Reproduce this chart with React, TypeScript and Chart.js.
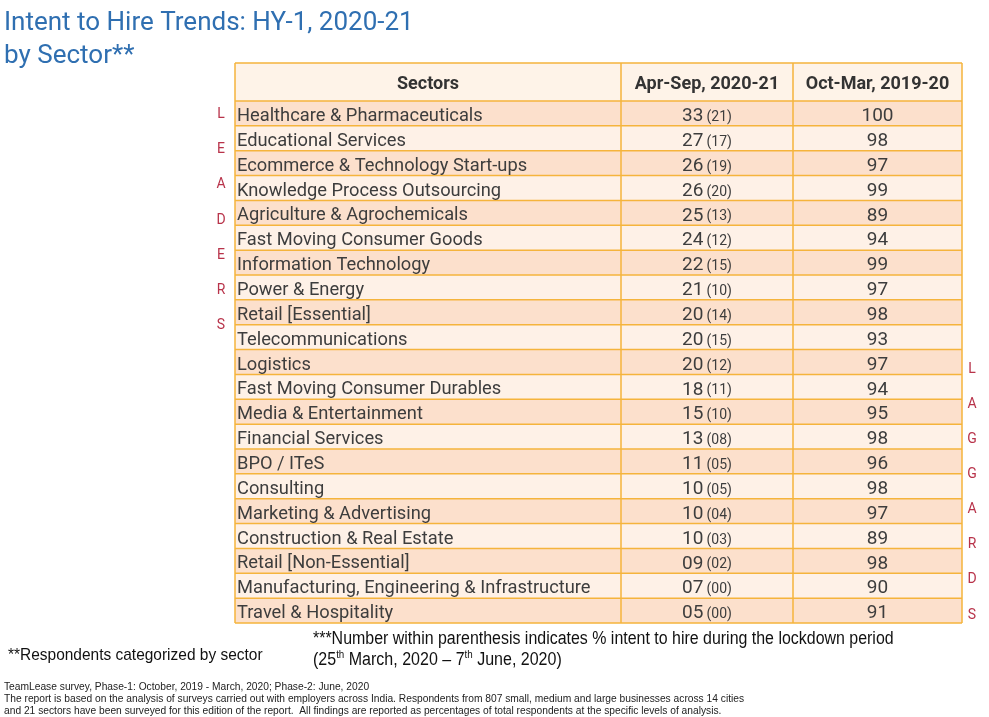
import React, { useEffect, useRef } from 'react';
import { Chart, registerables } from 'chart.js';

Chart.register(...registerables);

// table content
const headers = ['Sectors', 'Apr-Sep, 2020-21', 'Oct-Mar, 2019-20'];
const sectors = [
  'Healthcare & Pharmaceuticals',
  'Educational Services',
  'Ecommerce & Technology Start-ups',
  'Knowledge Process Outsourcing',
  'Agriculture & Agrochemicals',
  'Fast Moving Consumer Goods',
  'Information Technology',
  'Power & Energy',
  'Retail [Essential]',
  'Telecommunications',
  'Logistics',
  'Fast Moving Consumer Durables',
  'Media & Entertainment',
  'Financial Services',
  'BPO / ITeS',
  'Consulting',
  'Marketing & Advertising',
  'Construction & Real Estate',
  'Retail [Non-Essential]',
  'Manufacturing, Engineering & Infrastructure',
  'Travel & Hospitality',
];
const aprSep2021 = [33, 27, 26, 26, 25, 24, 22, 21, 20, 20, 20, 18, 15, 13, 11, 10, 10, 10, 9, 7, 5];
const lockdown = [21, 17, 19, 20, 13, 12, 15, 10, 14, 15, 12, 11, 10, 8, 5, 5, 4, 3, 2, 0, 0];
const octMar1920 = [100, 98, 97, 99, 89, 94, 99, 97, 98, 93, 97, 94, 95, 98, 96, 98, 97, 89, 98, 90, 91];
const leadersLetters = ['L', 'E', 'A', 'D', 'E', 'R', 'S'];
const laggardsLetters = ['L', 'A', 'G', 'G', 'A', 'R', 'D', 'S'];

// layout of the columns in x-axis units
const colEdges = [0, 386, 558, 727];

const TABLE_FONT = 'Roboto, "Noto Sans", sans-serif';
const NARROW_FONT = '"Liberation Sans Narrow", "Liberation Sans", Arial, sans-serif';
const TEXT_COLOR = '#3d3d3d';
const BORDER = '#f5b43c';
const ROW_DARK = '#fce0cc';
const ROW_LIGHT = '#fef1e7';
const HEADER_BG = '#fef3e8';
const LETTER_RED = '#b8334a';
const TITLE_BLUE = '#2f6fb1';

const pad2 = (v: number) => String(v).padStart(2, '0');

// draws text horizontally squeezed, to imitate the condensed face of the notes
const narrowText = (ctx: CanvasRenderingContext2D, text: string, x: number, y: number, size: number, squeeze: number) => {
  ctx.save();
  ctx.font = `${size}px ${NARROW_FONT}`;
  ctx.translate(x, y);
  ctx.scale(squeeze, 1);
  ctx.fillText(text, 0, 0);
  const w = ctx.measureText(text).width * squeeze;
  ctx.restore();
  return w;
};

const tablePlugin = {
  id: 'tableCells',
  beforeDraw(chart: any) {
    const { ctx, chartArea, scales } = chart;
    const x = scales.x;
    const y = scales.y;
    const half = (y.getPixelForValue(1) - y.getPixelForValue(0)) / 2;
    const left = x.getPixelForValue(colEdges[0]);
    const right = x.getPixelForValue(colEdges[colEdges.length - 1]);
    const top = x.top;
    const bottom = y.getPixelForValue(sectors.length - 1) + half;

    ctx.save();
    ctx.fillStyle = HEADER_BG;
    ctx.fillRect(left, top, right - left, chartArea.top - top);
    sectors.forEach((_, i) => {
      const c = y.getPixelForValue(i);
      ctx.fillStyle = i % 2 === 0 ? ROW_DARK : ROW_LIGHT;
      ctx.fillRect(left, c - half, right - left, half * 2);
    });

    ctx.strokeStyle = BORDER;
    ctx.lineWidth = 1.5;
    ctx.beginPath();
    ctx.moveTo(left, top);
    ctx.lineTo(right, top);
    sectors.forEach((_, i) => {
      const yy = y.getPixelForValue(i) - half;
      ctx.moveTo(left, yy);
      ctx.lineTo(right, yy);
    });
    ctx.moveTo(left, bottom);
    ctx.lineTo(right, bottom);
    colEdges.forEach((e) => {
      const xx = x.getPixelForValue(e);
      ctx.moveTo(xx, top);
      ctx.lineTo(xx, bottom);
    });
    ctx.stroke();
    ctx.restore();
  },
  afterDraw(chart: any) {
    const { ctx, scales } = chart;
    const x = scales.x;
    const y = scales.y;
    const midApr = x.getPixelForValue((colEdges[1] + colEdges[2]) / 2);
    const midOct = x.getPixelForValue((colEdges[2] + colEdges[3]) / 2);

    ctx.save();
    ctx.fillStyle = TEXT_COLOR;
    ctx.textBaseline = 'middle';
    sectors.forEach((_, i) => {
      const cy = y.getPixelForValue(i) + 3;
      const main = pad2(aprSep2021[i]);
      const paren = '(' + pad2(lockdown[i]) + ')';
      ctx.font = `19px ${TABLE_FONT}`;
      const wMain = ctx.measureText(main).width;
      ctx.font = `14px ${TABLE_FONT}`;
      const wParen = ctx.measureText(paren).width;
      const gap = 3;
      const start = midApr - (wMain + gap + wParen) / 2;
      ctx.textAlign = 'left';
      ctx.font = `19px ${TABLE_FONT}`;
      ctx.fillText(main, start, cy);
      ctx.font = `14px ${TABLE_FONT}`;
      ctx.fillText(paren, start + wMain + gap, cy + 1);

      ctx.textAlign = 'center';
      ctx.font = `19px ${TABLE_FONT}`;
      ctx.fillText(String(octMar1920[i]), midOct, cy);
    });

    // leaders / laggards side labels
    ctx.fillStyle = LETTER_RED;
    ctx.font = `14px ${TABLE_FONT}`;
    ctx.textAlign = 'center';
    const spread = (letters: string[], from: number, to: number, px: number) => {
      letters.forEach((l, k) => {
        const v = from + ((to - from) * k) / (letters.length - 1);
        ctx.fillText(l, px, y.getPixelForValue(v) + 1);
      });
    };
    spread(leadersLetters, 0, 8.5, x.left - 14);
    spread(laggardsLetters, 10.26, 20.14, x.right + 10);

    // title
    ctx.fillStyle = TITLE_BLUE;
    ctx.textAlign = 'left';
    ctx.font = `26px ${TABLE_FONT}`;
    ctx.fillText('Intent to Hire Trends: HY-1, 2020-21', 4, 23);
    ctx.fillText('by Sector**', 4, 56);

    // footnotes
    ctx.fillStyle = '#111111';
    narrowText(ctx, '**Respondents categorized by sector', 8, 655, 17, 0.91);
    narrowText(ctx, '***Number within parenthesis indicates % intent to hire during the lockdown period', 313, 639, 18, 0.886);
    const parts: [string, boolean][] = [
      ['(25', false], ['th', true], [' March, 2020 \u2013 7', false], ['th', true], [' June, 2020)', false],
    ];
    let px = 313;
    parts.forEach(([t, sup]) => {
      px += narrowText(ctx, t, px, sup ? 655 : 660, sup ? 11 : 18, 0.89);
    });

    ctx.fillStyle = '#222222';
    narrowText(ctx, 'TeamLease survey, Phase-1: October, 2019 - March, 2020; Phase-2: June, 2020', 4, 687, 11.5, 0.89);
    narrowText(ctx, 'The report is based on the analysis of surveys carried out with employers across India. Respondents from 807 small, medium and large businesses across 14 cities', 4, 699, 11.5, 0.89);
    narrowText(ctx, 'and 21 sectors have been surveyed for this edition of the report.  All findings are reported as percentages of total respondents at the specific levels of analysis.', 4, 711, 11.5, 0.89);
    ctx.restore();
  },
};

const HireTable: React.FC = () => {
  const canvasRef = useRef<HTMLCanvasElement | null>(null);
  const chartRef = useRef<Chart | null>(null);

  useEffect(() => {
    if (!canvasRef.current) return;
    if (chartRef.current) chartRef.current.destroy();

    chartRef.current = new Chart(canvasRef.current, {
      type: 'bar',
      data: {
        labels: sectors,
        datasets: [],
      },
      options: {
        animation: false,
        responsive: false,
        indexAxis: 'y',
        layout: { padding: { left: 235, right: 27, top: 63, bottom: 94 } },
        plugins: {
          legend: { display: false },
          tooltip: { enabled: false },
        },
        scales: {
          x: {
            type: 'linear',
            position: 'top',
            min: colEdges[0],
            max: colEdges[colEdges.length - 1],
            grid: { display: false, drawTicks: false },
            border: { display: false },
            afterBuildTicks: (scale: any) => {
              scale.ticks = headers.map((_, i) => ({ value: (colEdges[i] + colEdges[i + 1]) / 2 }));
            },
            afterFit: (scale: any) => {
              scale.height = 38;
            },
            ticks: {
              autoSkip: false,
              maxRotation: 0,
              padding: 6,
              color: '#333333',
              font: { family: TABLE_FONT, size: 18, weight: 'bold' },
              callback: (_v: any, i: number) => headers[i],
            },
          },
          y: {
            type: 'category',
            offset: true,
            grid: { display: false, drawTicks: false },
            border: { display: false },
            afterFit: (scale: any) => {
              scale.width = 0;
            },
            ticks: {
              mirror: true,
              padding: 2,
              labelOffset: 3,
              autoSkip: false,
              color: TEXT_COLOR,
              font: { family: TABLE_FONT, size: 18.3 },
            },
          },
        },
      },
      plugins: [tablePlugin],
    } as any);

    return () => {
      if (chartRef.current) {
        chartRef.current.destroy();
        chartRef.current = null;
      }
    };
  }, []);

  return (
    <div style={{ position: 'fixed', left: 0, top: 0, width: 989, height: 717, background: '#ffffff' }}>
      <canvas ref={canvasRef} width={989} height={717} style={{ width: 989, height: 717 }} />
    </div>
  );
};

export default function App() {
  return <HireTable />;
}
